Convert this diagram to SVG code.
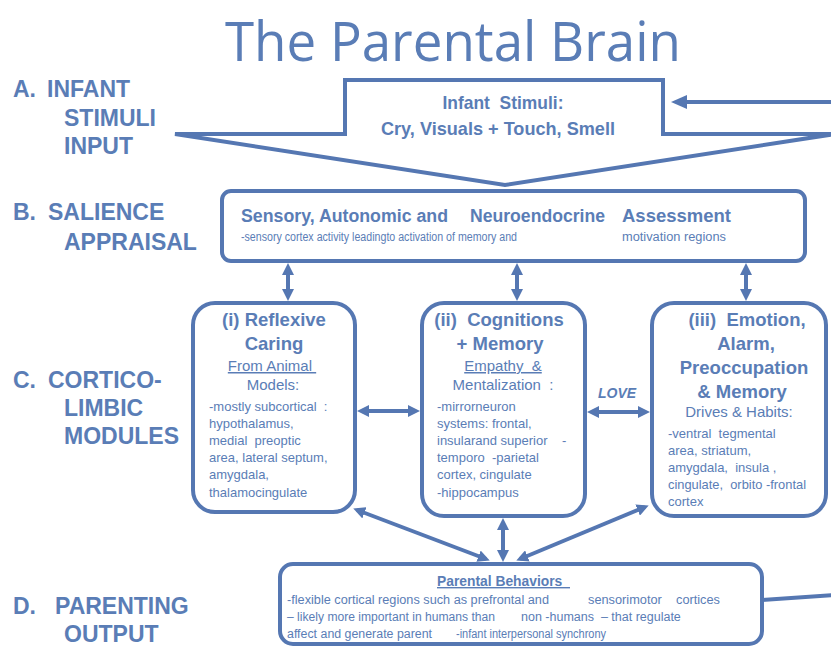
<svg xmlns="http://www.w3.org/2000/svg" width="831" height="646" viewBox="0 0 831 646" xml:space="preserve">
  <defs>
    <marker id="head" viewBox="0 0 12 12" refX="8" refY="6" markerWidth="12" markerHeight="12" markerUnits="userSpaceOnUse" orient="auto-start-reverse">
      <path d="M0,0 L12,6 L0,12 Z" fill="#5577b2"/>
    </marker>
    <marker id="headBig" viewBox="0 0 16 14" refX="10" refY="7" markerWidth="16" markerHeight="14" markerUnits="userSpaceOnUse" orient="auto-start-reverse">
      <path d="M0,0 L16,7 L0,14 Z" fill="#5577b2"/>
    </marker>
  </defs>
  <style>
    .box { fill: #ffffff; stroke: #5577b2; stroke-width: 4; }
    .line { stroke: #5577b2; stroke-width: 4; fill: none; }
    text { font-family: "Liberation Sans", Arial, sans-serif; fill: #5a7db6; white-space: pre; }
    .title { font-family: "Open Sans", "Liberation Sans", sans-serif; font-size: 54px; }
    .stage { font-size: 23px; font-weight: bold; }
    .head { font-size: 18.5px; font-weight: bold; text-anchor: middle; }
    .sub { font-size: 15px; text-anchor: middle; }
    .u { text-decoration: underline; }
    .body { font-size: 13px; }
    .small { font-size: 12.5px; }
  </style>

  <rect width="831" height="646" fill="#ffffff"/>

  <!-- title -->
  <text class="title" x="225" y="61" textLength="456" lengthAdjust="spacingAndGlyphs">The Parental Brain</text>

  <!-- stage labels -->
  <g id="stage-labels">
    <text class="stage" x="13" y="97">A.</text>
    <text class="stage" x="47" y="97">INFANT</text>
    <text class="stage" x="64" y="126">STIMULI</text>
    <text class="stage" x="64" y="154">INPUT</text>
    <text class="stage" x="13" y="220">B.</text>
    <text class="stage" x="48" y="220">SALIENCE</text>
    <text class="stage" x="64" y="250">APPRAISAL</text>
    <text class="stage" x="13" y="388">C.</text>
    <text class="stage" x="48" y="388">CORTICO-</text>
    <text class="stage" x="64" y="416">LIMBIC</text>
    <text class="stage" x="64" y="444">MODULES</text>
    <text class="stage" x="13" y="614">D.</text>
    <text class="stage" x="55" y="614">PARENTING</text>
    <text class="stage" x="64" y="642">OUTPUT</text>
  </g>

  <!-- A: infant stimuli block arrow -->
  <g id="infant-stimuli">
    <path class="box" d="M345,80 L663,80 L663,134 L835,134 L505,185 L175,134 L345,134 Z"/>
    <text x="503" y="109" font-size="19" font-weight="bold" text-anchor="middle" textLength="121" lengthAdjust="spacingAndGlyphs">Infant  Stimuli:</text>
    <text x="498" y="135" font-size="19" font-weight="bold" text-anchor="middle" textLength="234" lengthAdjust="spacingAndGlyphs">Cry, Visuals + Touch, Smell</text>
  </g>

  <!-- B: salience appraisal -->
  <g id="salience">
    <rect class="box" x="222" y="191" width="583" height="70" rx="9"/>
    <text x="241" y="222" font-size="17.5" font-weight="bold" textLength="207" lengthAdjust="spacingAndGlyphs">Sensory, Autonomic and</text>
    <text x="470" y="222" font-size="17.5" font-weight="bold" textLength="135" lengthAdjust="spacingAndGlyphs">Neuroendocrine</text>
    <text x="622" y="222" font-size="17.5" font-weight="bold" textLength="109" lengthAdjust="spacingAndGlyphs">Assessment</text>
    <text class="small" x="241" y="241" textLength="276" lengthAdjust="spacingAndGlyphs">-sensory cortex activity leadingto activation of memory and</text>
    <text class="small" x="622" y="241" textLength="104" lengthAdjust="spacingAndGlyphs">motivation regions</text>
  </g>

  <!-- C(i): reflexive caring -->
  <g id="reflexive-caring">
    <rect class="box" x="193" y="303" width="162" height="209" rx="22"/>
    <text class="head" x="274" y="326">(i) Reflexive</text>
    <text class="head" x="274" y="350">Caring</text>
    <text class="sub u" x="272" y="371">From Animal </text>
    <text class="sub" x="273" y="390">Models:</text>
    <text class="body" x="209" y="411">-mostly subcortical  :</text>
    <text class="body" x="209" y="428">hypothalamus,</text>
    <text class="body" x="209" y="445">medial  preoptic</text>
    <text class="body" x="209" y="462">area, lateral septum,</text>
    <text class="body" x="209" y="479">amygdala,</text>
    <text class="body" x="209" y="497">thalamocingulate</text>
  </g>

  <!-- C(ii): cognitions + memory -->
  <g id="cognitions-memory">
    <rect class="box" x="422" y="303" width="163" height="213" rx="22"/>
    <text class="head" x="499" y="326">(ii)  Cognitions</text>
    <text class="head" x="500" y="350">+ Memory</text>
    <text class="sub u" x="503" y="371">Empathy  &amp;</text>
    <text class="sub" x="503" y="390">Mentalization  :</text>
    <text class="body" x="437" y="411">-mirrorneuron</text>
    <text class="body" x="437" y="428">systems: frontal,</text>
    <text class="body" x="437" y="445">insularand superior    -</text>
    <text class="body" x="437" y="462">temporo  -parietal</text>
    <text class="body" x="437" y="479">cortex, cingulate</text>
    <text class="body" x="437" y="497">-hippocampus</text>
  </g>

  <!-- C(iii): emotion, alarm, preoccupation + memory -->
  <g id="emotion-alarm">
    <rect class="box" x="652" y="303" width="174" height="213" rx="22"/>
    <text class="head" x="747" y="326">(iii)  Emotion,</text>
    <text class="head" x="746" y="350">Alarm,</text>
    <text class="head" x="744" y="374">Preoccupation</text>
    <text class="head" x="742" y="398">&amp; Memory</text>
    <text class="sub" x="739" y="417">Drives &amp; Habits:</text>
    <text class="body" x="668" y="438">-ventral  tegmental</text>
    <text class="body" x="668" y="455">area, striatum,</text>
    <text class="body" x="668" y="472">amygdala,  insula ,</text>
    <text class="body" x="668" y="489" textLength="138" lengthAdjust="spacingAndGlyphs">cingulate,  orbito -frontal</text>
    <text class="body" x="668" y="506">cortex</text>
  </g>

  <!-- D: parental behaviors -->
  <g id="parental-behaviors">
    <rect class="box" x="280" y="564" width="482" height="80" rx="13"/>
    <text x="437" y="586" font-size="14" font-weight="bold" text-decoration="underline" textLength="133" lengthAdjust="spacingAndGlyphs">Parental Behaviors  </text>
    <text class="small" x="287" y="604" textLength="262" lengthAdjust="spacingAndGlyphs">-flexible cortical regions such as prefrontal and</text>
    <text class="small" x="588" y="604" textLength="132" lengthAdjust="spacingAndGlyphs">sensorimotor    cortices</text>
    <text class="small" x="287" y="621" textLength="208" lengthAdjust="spacingAndGlyphs">– likely more important in humans than</text>
    <text class="small" x="521" y="621">non -humans  – that regulate</text>
    <text class="small" x="287" y="638" textLength="145" lengthAdjust="spacingAndGlyphs">affect and generate parent</text>
    <text class="small" x="456" y="638" textLength="150" lengthAdjust="spacingAndGlyphs">-infant interpersonal synchrony</text>
  </g>

  <!-- connectors -->
  <g id="connectors">
    <!-- feedback from parenting output back to infant stimuli -->
    <line class="line" x1="762" y1="600" x2="835" y2="595"/>
    <line class="line" x1="835" y1="102" x2="677" y2="102" marker-end="url(#headBig)"/>
    <!-- salience <-> modules -->
    <line class="line" x1="288" y1="267" x2="288" y2="297" marker-start="url(#head)" marker-end="url(#head)"/>
    <line class="line" x1="517" y1="267" x2="517" y2="297" marker-start="url(#head)" marker-end="url(#head)"/>
    <line class="line" x1="746" y1="267" x2="746" y2="297" marker-start="url(#head)" marker-end="url(#head)"/>
    <!-- module <-> module -->
    <line class="line" x1="361" y1="411" x2="416" y2="411" marker-start="url(#head)" marker-end="url(#head)"/>
    <line class="line" x1="591" y1="412" x2="646" y2="412" marker-start="url(#head)" marker-end="url(#head)"/>
    <text x="598" y="398" font-size="14" font-weight="bold" font-style="italic">LOVE</text>
    <!-- modules <-> parenting output -->
    <line class="line" x1="357" y1="510" x2="486" y2="559" marker-start="url(#head)" marker-end="url(#head)"/>
    <line class="line" x1="503" y1="522" x2="503" y2="558" marker-start="url(#head)" marker-end="url(#head)"/>
    <line class="line" x1="645" y1="507" x2="520" y2="559" marker-start="url(#head)" marker-end="url(#head)"/>
  </g>
</svg>
